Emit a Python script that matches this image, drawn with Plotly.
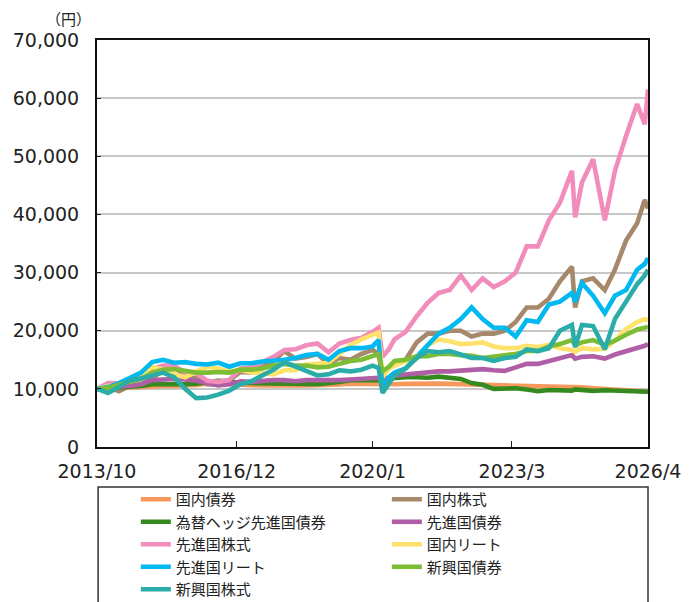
import plotly.graph_objects as go

dates = ["2013-10-01","2014-01-01","2014-04-01","2014-07-01","2014-10-01","2015-01-01","2015-04-01","2015-07-01","2015-10-01","2016-01-01",
         "2016-04-01","2016-07-01","2016-10-01","2017-01-01","2017-04-01","2017-07-01","2017-10-01","2018-01-01","2018-04-01","2018-07-01",
         "2018-10-01","2019-01-01","2019-04-01","2019-07-01","2019-10-01","2020-01-01","2020-02-20","2020-03-23","2020-05-15","2020-07-01",
         "2020-10-01","2021-01-01","2021-04-01","2021-07-01","2021-10-01","2022-01-01","2022-04-01","2022-07-01","2022-10-01","2023-01-01",
         "2023-04-01","2023-07-01","2023-10-01","2024-01-01","2024-04-01","2024-07-10","2024-08-05","2024-10-01","2025-01-01","2025-04-08",
         "2025-07-01","2025-10-01","2026-01-01","2026-03-05","2026-04-01"]

domestic_bond = [10000,10080,10150,10250,10350,10550,10500,10500,10550,10650,
                 10900,11000,10800,10650,10650,10600,10650,10600,10650,10600,
                 10600,10700,10750,10900,10850,10800,10850,10700,10800,10800,
                 10850,10900,10850,10900,10850,10800,10700,10700,10600,10550,
                 10650,10600,10400,10500,10300,10200,10300,10250,10100,10000,
                 9900,9800,9650,9550,9550]
domestic_stock = [10000,10300,9600,10500,10800,11800,13200,13700,12300,11800,
                  10800,10700,11500,12900,12800,13800,14800,16500,15200,15500,
                  16000,14300,15300,15000,16000,16700,16000,12500,13700,14500,
                  15000,18000,19500,19500,20000,20000,19000,19500,19500,20000,
                  21500,24000,24000,25500,28500,31000,24000,28500,29000,27000,
                  30500,35500,38500,42500,41000]
hedged_dev_bond = [10000,10100,10250,10400,10500,10800,10800,10700,10800,10900,
                   11100,11400,11300,11000,11000,11000,11000,10900,10850,10850,
                   10800,10950,11200,11500,11500,11500,11600,11500,11800,11900,
                   12000,12000,11900,12100,11900,11700,11000,10700,10000,10100,
                   10100,9900,9600,9800,9700,9700,9900,9800,9650,9750,
                   9700,9650,9550,9550,9500]
dev_bond = [10000,10300,10400,10500,10800,11500,11600,11700,11600,11400,
            11000,10600,10800,11300,11200,11400,11500,11500,11300,11500,
            11500,11400,11500,11600,11700,11800,11900,11700,11900,12300,
            12500,12700,12900,13000,13000,13200,13300,13400,13200,13100,
            13700,14300,14300,14800,15300,15800,15200,15500,15600,15200,
            15900,16400,17000,17400,17700]
dev_stock = [10000,11000,10900,11700,11900,13400,14000,14000,12800,12700,
             11400,11200,11500,13500,13700,14500,15500,16700,16800,17500,
             17800,16300,17800,18400,18800,19800,20500,15500,16800,18500,
             19800,22500,24800,26500,27000,29500,27000,29000,27500,28500,
             30000,34500,34500,39000,42000,47500,39500,45500,49500,39000,
             47500,53500,59000,55500,61500]
domestic_reit = [10000,10500,10600,11500,12300,13800,13300,12500,12000,13000,
                 13800,13500,13000,13300,12800,12700,12500,13200,13200,14200,
                 14300,14500,16000,17500,18500,19200,19700,12000,13500,14000,
                 14800,15500,17500,18500,18200,17700,17800,18000,17300,17000,
                 17000,17400,17200,17600,17000,16700,16400,17000,16800,16900,
                 18300,20300,21500,22000,21800]
dev_reit = [10000,10300,11000,12000,12800,14600,15000,14500,14600,14300,
            14200,14500,13800,14400,14400,14700,14800,15000,15300,15800,
            16000,15000,16500,17000,17000,17300,18400,10000,12000,12800,
            13500,15500,17500,19500,20500,22000,24000,22000,20500,20500,
            19000,21800,21500,24500,25000,26500,25000,28200,26000,23000,
            26000,27000,30500,31500,32500]
em_bond = [10000,10200,10700,11300,11700,12800,13300,13400,13000,12800,
           12800,12900,12800,13300,13300,13500,14000,14300,14000,14000,
           13700,13800,14300,14800,15000,15700,16000,13000,13800,14800,
           15000,15600,15600,16000,16000,15800,15700,15300,15500,15800,
           16000,16500,16500,17300,17700,18400,17500,18000,18400,17600,
           18300,19300,20200,20500,20700]
em_stock = [10000,9300,10300,11500,11800,12300,12800,12000,10000,8400,
            8500,9000,9700,10800,11300,12300,13300,14600,13800,13000,
            12300,12500,13200,13000,13300,14000,13600,9300,10800,12300,
            13500,15300,16500,16300,16500,15800,15300,15300,14800,15300,
            15500,16800,16500,17000,20000,21000,17200,21000,20800,16800,
            22000,25000,28000,29500,30500]

series_names = ["国内債券", "国内株式", "為替ヘッジ先進国債券", "先進国債券", "先進国株式",
                "国内リート", "先進国リート", "新興国債券", "新興国株式"]
series_values = [domestic_bond, domestic_stock, hedged_dev_bond, dev_bond, dev_stock,
                 domestic_reit, dev_reit, em_bond, em_stock]
series_colors = ["#F7985C", "#A6896A", "#358A1F", "#B05FA6", "#F28DBB",
                 "#FFE26C", "#00B9F0", "#7DBD35", "#2AADA8"]

x_tick_vals = ["2013-10-01", "2016-12-01", "2020-01-01", "2023-03-01", "2026-04-01"]
x_tick_text = ["2013/10", "2016/12", "2020/1", "2023/3", "2026/4"]

JP_FONT = "Noto Sans CJK JP"
NUM_FONT = "DejaVu Sans, Noto Sans CJK JP"

fig = go.Figure()
for name, vals, col in zip(series_names, series_values, series_colors):
    fig.add_trace(go.Scatter(x=dates, y=vals, name=name, mode="lines",
                             line=dict(color=col, width=4.6)))

fig.update_layout(
    width=688, height=594,
    margin=dict(l=89, r=48, t=32, b=155, autoexpand=False),
    paper_bgcolor="white", plot_bgcolor="white",
    font=dict(family=JP_FONT, color="#222222"),
    showlegend=True,
    legend=dict(orientation="h", x=0.0705, xanchor="left", y=-0.0885, yanchor="top",
                entrywidth=206, font=dict(size=15, family=JP_FONT, color="#222222"),
                bgcolor="rgba(0,0,0,0)", borderwidth=0),
    shapes=[dict(type="rect", xref="paper", yref="paper", x0=0.002, x1=1.0,
                 y0=-0.42, y1=-0.098, line=dict(color="#333333", width=1.5),
                 fillcolor="rgba(0,0,0,0)", layer="below")],
    annotations=[dict(text="（円）", xref="paper", yref="paper", x=-0.0098, y=1.054,
                      xanchor="right", yanchor="middle", showarrow=False, borderpad=0,
                      font=dict(size=15, family=JP_FONT, color="#222222"))],
)

fig.update_xaxes(type="date", range=["2013-10-01", "2026-04-01"],
                 tickvals=x_tick_vals, ticktext=x_tick_text,
                 ticks="inside", ticklen=6, tickcolor="#222222", tickwidth=1,
                 showgrid=False, showline=True, linecolor="#111111", linewidth=2,
                 mirror=True, tickfont=dict(size=19, family=NUM_FONT, color="#222222"),
                 ticklabelstandoff=6, zeroline=False)
fig.update_yaxes(range=[0, 70000], dtick=10000, tickformat=",",
                 ticks="inside", ticklen=4, tickcolor="#222222", tickwidth=1,
                 showgrid=True, gridcolor="#C8C8C8", gridwidth=1.5,
                 showline=True, linecolor="#111111", linewidth=2, mirror=True,
                 tickfont=dict(size=19, family=NUM_FONT, color="#222222"),
                 ticklabelstandoff=12, zeroline=False)

fig.write_html("out.html")
